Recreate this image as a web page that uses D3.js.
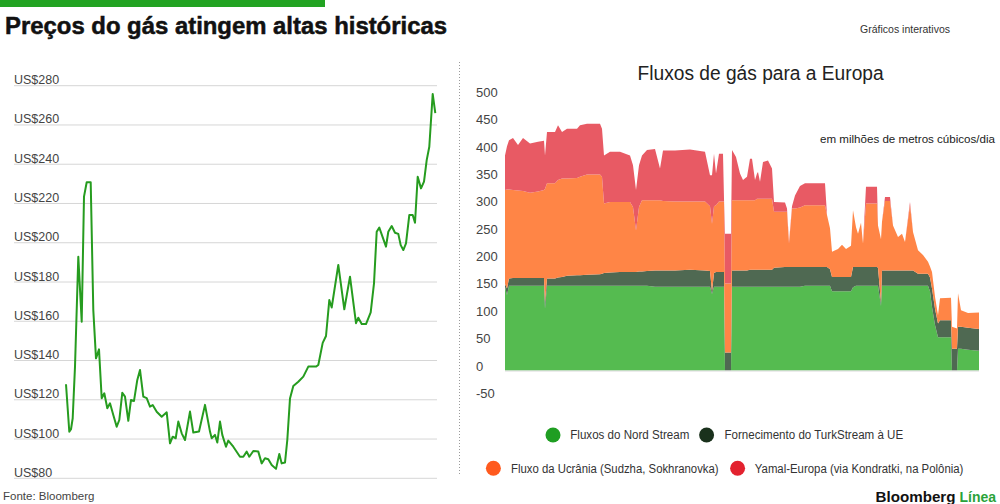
<!DOCTYPE html>
<html>
<head>
<meta charset="utf-8">
<script src="https://cdn.jsdelivr.net/npm/d3@7"></script>
<style>
  body { margin: 0; background: #fff; }
  svg { display: block; font-family: "Liberation Sans", Arial, sans-serif; }
</style>
</head>
<body>
<svg id="chart" width="1000" height="504"></svg>
<script>
// ---- preço do gás (painel esquerdo) ----
const priceT = [0, 3.3, 5, 6.7, 9, 12.3, 15.7, 18, 20.7, 24.7, 27.3, 30, 33, 35.7, 38.3, 41.3, 44, 47.3, 50.7, 53.3,
  56.3, 59, 62.3, 65, 68, 71.3, 74, 77.3, 80.7, 84, 86.7, 90.7, 95.7, 100.7, 104, 106.7, 109.7, 112.3, 115.7, 119,
  124, 127.3, 133, 139, 144, 145.7, 149, 151.3, 154, 156.3, 160, 162.3, 167.3, 174, 177.3, 180.7, 183.3, 187.3, 192.3, 195.7,
  199, 202.3, 205.7, 210, 213.3, 215.7, 219, 221.3, 224, 227.3, 232.3, 237.3, 242.3, 250, 252.3, 256.7, 260, 263.3, 265.7, 272.3,
  278.3, 284, 290, 292.3, 295.7, 300, 304.7, 308, 310.7, 313.3, 320, 322.3, 325.7, 329, 332.3, 334.7, 337.3, 340, 343.3, 346.7,
  349, 351.7, 355, 358, 360.7, 363.3, 366.7, 369.3];
const priceV = [127.9, 103.7, 105, 110.6, 136.9, 192.9, 159.8, 223.5, 230.8, 230.8, 165.7, 141.1, 145.7, 120.8, 123.3, 115.7, 118.2, 112.2, 106.3, 109.7,
  123.6, 121.6, 109.3, 119.9, 119.4, 130.1, 135.2, 121.6, 120.8, 116.5, 117.3, 113.9, 111.4, 113.6, 97.8, 101.2, 100.4, 108.9, 102.9, 99.5,
  114.0, 103.3, 103.8, 117.4, 103.8, 100.4, 102.1, 98.2, 108.9, 102.1, 96.1, 99.2, 96.1, 91.0, 91.0, 93.6, 91.0, 93.9, 93.6, 87.6,
  90.2, 89.7, 86.8, 84.8, 92.4, 87.6, 88.0, 99.5, 120.7, 127.0, 129.2, 131.8, 136.9, 136.9, 137.7, 149, 152.5, 170.8, 167, 188.7,
  166.1, 182.7, 159.0, 161.8, 158.6, 158.6, 164.5, 179.3, 205.6, 207.7, 198.0, 205.6, 208.5, 205.1, 204.5, 198.8, 196.3, 199.7, 214.1, 214.1,
  210.2, 233.6, 227.7, 231.1, 242.1, 248.9, 275.8, 266.0];
const priceTicks = [80, 100, 120, 140, 160, 180, 200, 220, 240, 260, 280];

// ---- fluxos de gás (painel direito), milhões m3/dia ----
const flowDay = [0, 2, 4, 8, 13, 18, 25, 33, 39, 40, 42, 50, 53, 57, 62, 72, 75, 82, 95, 97,
  99, 105, 115, 125, 128, 131, 134, 137, 142, 150, 155, 158, 170, 185, 200, 205, 207, 209, 211, 214,
  218, 219, 220, 226, 227, 231, 235, 238, 242, 245, 247, 250, 252, 253, 255, 258, 263, 267, 269, 280,
  282, 284, 287, 290, 295, 300, 320, 322, 325, 327, 333, 337, 341, 346, 348, 351, 353, 356, 358, 361,
  372, 373, 376, 377, 380, 385, 388, 393, 397, 400, 405, 408, 413, 418, 423, 425, 427, 430, 433, 435,
  446, 447, 452, 453, 456, 463, 474];
const nordStream = [153, 138, 155, 155, 155, 155, 155, 155, 155, 113, 155, 155, 155, 155, 155, 155, 155, 155, 155, 155,
  155, 155, 155, 155, 155, 155, 155, 155, 155, 153, 153, 153, 153, 153, 153, 153, 140, 153, 153, 153,
  153, 153, 0, 0, 153, 153, 153, 153, 153, 153, 153, 153, 153, 153, 153, 153, 153, 153, 153, 153,
  153, 153, 153, 153, 153, 155, 155, 155, 155, 145, 145, 145, 145, 145, 152, 155, 155, 155, 155, 155,
  155, 155, 118, 155, 155, 155, 155, 155, 155, 155, 155, 155, 155, 155, 155, 145, 116, 83, 61, 61,
  61, 0, 0, 40, 40, 38, 36];
const turkStream = [5, 12, 13, 14, 14, 14, 14, 14, 14, 12, 13, 13, 15, 16, 18, 19, 19, 20, 21, 22,
  23, 24, 25, 25, 25, 25, 26, 26, 27, 30, 30, 30, 30, 31, 30, 29, 4, 25, 27, 27,
  27, 27, 33, 33, 30, 30, 30, 30, 30, 31, 31, 31, 31, 31, 31, 31, 31, 31, 35, 36,
  36, 36, 36, 36, 36, 34, 34, 34, 30, 26, 26, 26, 26, 26, 37, 34, 34, 34, 34, 34,
  34, 33, 6, 28, 28, 28, 28, 28, 28, 28, 28, 28, 22, 22, 22, 25, 34, 30, 25, 31,
  31, 40, 40, 40, 40, 40, 40];
const ukraine = [172, 181, 163, 161, 160, 159, 156, 158, 161, 207, 174, 174, 178, 180, 178, 178, 180, 183, 182, 177,
  127, 129, 128, 128, 119, 76, 118, 130, 129, 128, 128, 127, 126, 125, 126, 118, 124, 122, 122, 129,
  129, 129, 126, 126, 128, 128, 128, 128, 128, 127, 127, 127, 130, 130, 130, 130, 130, 130, 102, 101,
  101, 43, 107, 107, 109, 113, 113, 95, 75, 46, 51, 59, 51, 57, 104, 73, 61, 81, 43, 116,
  116, 77, 116, 89, 127, 127, 82, 61, 67, 52, 119, 70, 43, 34, 22, 20, 30, 22, 15, 40,
  41, 40, 37, 61, 30, 27, 30];
const yamal = [63, 79, 90, 95, 83, 97, 90, 91, 90, 61, 94, 94, 100, 85, 91, 90, 94, 93, 93, 88,
  88, 92, 92, 85, 76, 74, 76, 82, 92, 94, 58, 92, 93, 95, 91, 57, 89, 96, 58, 87,
  87, 5, 91, 91, 92, 79, 49, 37, 43, 76, 76, 37, 46, 49, 31, 67, 70, 55, 18, 17,
  6, 3, 4, 24, 39, 40, 40, 0, 0, 0, 0, 0, 0, 0, 0, 0, 0, 0, 0, 31,
  31, 0, 0, 0, 7, 7, 0, 0, 0, 0, 6, 0, 0, 0, 0, 0, 0, 0, 0, 0,
  0, 0, 0, 0, 0, 0, 0];
const flowTicks = [-50, 0, 50, 100, 150, 200, 250, 300, 350, 400, 450, 500];

const flowKeys = ['nord', 'turk', 'ukr', 'yamal'];
const areaColors = ['#55bb50', '#4f6952', '#ff8546', '#e85a64'];
const legendColors = ['#1f9e22', '#1a311c', '#ff5a1e', '#e3222f'];
const legendLabels = ['Fluxos do Nord Stream', 'Fornecimento do TurkStream à UE',
  'Fluxo da Ucrânia (Sudzha, Sokhranovka)', 'Yamal-Europa (via Kondratki, na Polônia)'];

const svg = d3.select('#chart');

// barra verde e título
svg.append('rect')
  .attr('x', 0).attr('y', 0).attr('width', 325).attr('height', 7)
  .attr('fill', '#22a322');

svg.append('text')
  .attr('x', 5).attr('y', 34)
  .attr('font-size', 23).attr('font-weight', 700).attr('fill', '#111')
  .attr('stroke', '#111').attr('stroke-width', 0.5)
  .attr('textLength', 442).attr('lengthAdjust', 'spacingAndGlyphs')
  .text('Preços do gás atingem altas históricas');

svg.append('text')
  .attr('x', 860).attr('y', 33)
  .attr('font-size', 11).attr('fill', '#333')
  .attr('textLength', 90).attr('lengthAdjust', 'spacingAndGlyphs')
  .text('Gráficos interativos');

svg.append('text')
  .attr('x', 3).attr('y', 500)
  .attr('font-size', 11.5).attr('fill', '#444')
  .text('Fonte: Bloomberg');

// separador pontilhado
svg.append('line')
  .attr('x1', 459.5).attr('x2', 459.5).attr('y1', 62).attr('y2', 476)
  .attr('stroke', '#9a9a9a').attr('stroke-dasharray', '1,2');

// ---- painel esquerdo ----
let xp = d3.scaleLinear().domain([0, d3.max(priceT)]).range([66, 435.3]);
let yp = d3.scaleLinear().domain([80, 280]).range([478.3, 85.7]);

let left = svg.append('g');

left.selectAll('.grid')
  .data(priceTicks)
  .enter().append('line')
  .attr('class', 'grid')
  .attr('x1', 14).attr('x2', 437)
  .attr('y1', d => yp(d)).attr('y2', d => yp(d))
  .attr('stroke', '#d6d6d6');

left.selectAll('.plabel')
  .data(priceTicks)
  .enter().append('text')
  .attr('class', 'plabel')
  .attr('x', 14).attr('y', d => yp(d) - 1.5)
  .attr('font-size', 12.5).attr('fill', '#444')
  .text(d => 'US$' + d);

let priceLine = d3.line()
  .x((d, i) => xp(priceT[i]))
  .y(d => yp(d));

left.append('path')
  .datum(priceV)
  .attr('d', priceLine)
  .attr('fill', 'none')
  .attr('stroke', '#269c1f')
  .attr('stroke-width', 2)
  .attr('stroke-linejoin', 'round');

// ---- painel direito ----
svg.append('text')
  .attr('x', 637.6).attr('y', 80)
  .attr('font-size', 19.5).attr('fill', '#222')
  .attr('textLength', 246).attr('lengthAdjust', 'spacingAndGlyphs')
  .text('Fluxos de gás para a Europa');

svg.append('text')
  .attr('x', 820).attr('y', 143)
  .attr('font-size', 11).attr('fill', '#222')
  .attr('textLength', 175).attr('lengthAdjust', 'spacingAndGlyphs')
  .text('em milhões de metros cúbicos/dia');

let xf = d3.scaleLinear().domain([0, d3.max(flowDay)]).range([505, 979]);
let yf = d3.scaleLinear().domain([-50, 500]).range([397.9, 96.9]);

let rows = flowDay.map((d, i) => ({
  day: d, nord: nordStream[i], turk: turkStream[i], ukr: ukraine[i], yamal: yamal[i]
}));

let stacked = d3.stack().keys(flowKeys)(rows);

let area = d3.area()
  .x(d => xf(d.data.day))
  .y0(d => yf(d[0]))
  .y1(d => yf(d[1]));

let right = svg.append('g');

right.selectAll('.layer')
  .data(stacked)
  .enter().append('path')
  .attr('class', 'layer')
  .attr('d', area)
  .attr('fill', (d, i) => areaColors[i]);

right.append('line')
  .attr('x1', xf(0)).attr('x2', xf(d3.max(flowDay)))
  .attr('y1', yf(0) + 0.5).attr('y2', yf(0) + 0.5)
  .attr('stroke', '#dcdcdc');

right.selectAll('.flabel')
  .data(flowTicks)
  .enter().append('text')
  .attr('class', 'flabel')
  .attr('x', 476).attr('y', d => yf(d))
  .attr('font-size', 13).attr('fill', '#444')
  .text(d => d);

// legenda
const legendPos = [[553, 435, 570.3, 119], [706.6, 435, 724.5, 178.6],
  [493.4, 468.3, 511, 207.6], [737.6, 468.3, 754.8, 208.6]];

let legend = svg.append('g');
legendLabels.forEach((label, i) => {
  let p = legendPos[i];
  legend.append('circle')
    .attr('cx', p[0]).attr('cy', p[1]).attr('r', 7.5)
    .attr('fill', legendColors[i]);
  legend.append('text')
    .attr('x', p[2]).attr('y', p[1] + 4.3)
    .attr('font-size', 12.5).attr('fill', '#333')
    .attr('textLength', p[3]).attr('lengthAdjust', 'spacingAndGlyphs')
    .text(label);
});

// logotipo
svg.append('text')
  .attr('x', 875.5).attr('y', 501.5)
  .attr('font-size', 15.5).attr('font-weight', 700).attr('fill', '#111')
  .attr('textLength', 80).attr('lengthAdjust', 'spacingAndGlyphs')
  .text('Bloomberg');
svg.append('text')
  .attr('x', 959.5).attr('y', 501.5)
  .attr('font-size', 15.5).attr('font-weight', 700).attr('fill', '#2aa33a')
  .attr('textLength', 36.5).attr('lengthAdjust', 'spacingAndGlyphs')
  .text('Línea');
</script>
</body>
</html>
